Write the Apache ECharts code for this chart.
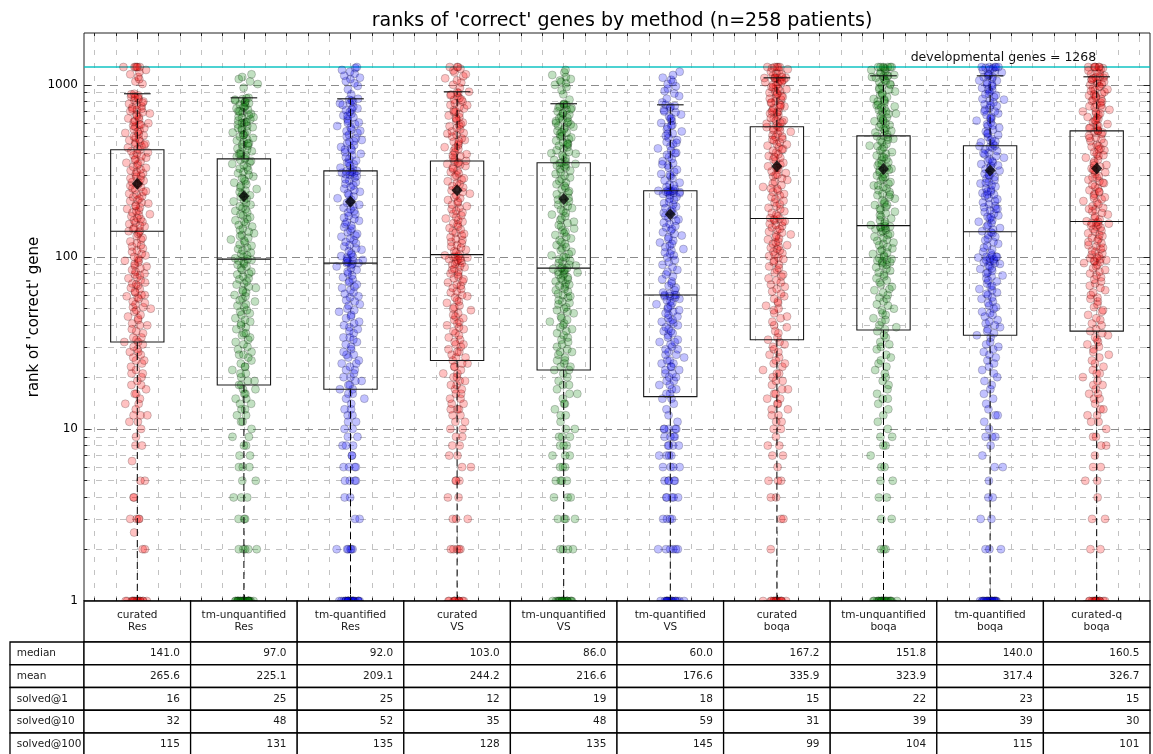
<!DOCTYPE html>
<html><head><meta charset="utf-8">
<script src="https://cdn.jsdelivr.net/npm/echarts@6/dist/echarts.min.js"></script>
<style>html,body{margin:0;padding:0;background:#fff}#c{width:1153px;height:754px}</style>
</head><body><div id="c"></div>
<script>
// ---------------- data ----------------
const methodLabels = ['curated\nRes','tm-unquantified\nRes','tm-quantified\nRes','curated\nVS','tm-unquantified\nVS','tm-quantified\nVS','curated\nboqa','tm-unquantified\nboqa','tm-quantified\nboqa','curated-q\nboqa'];
const tableRowLabels = ['median','mean','solved@1','solved@10','solved@100'];
const tableMedian = [141.0, 97.0, 92.0, 103.0, 86.0, 60.0, 167.2, 151.8, 140.0, 160.5];
const tableMean = [265.6, 225.1, 209.1, 244.2, 216.6, 176.6, 335.9, 323.9, 317.4, 326.7];
const solved1 = [16, 25, 25, 12, 19, 18, 15, 22, 23, 15];
const solved10 = [32, 48, 52, 35, 48, 59, 31, 39, 39, 30];
const solved100 = [115, 131, 135, 128, 135, 145, 99, 104, 115, 101];
const boxQ1 = [32, 18, 17, 25, 22, 15.4, 33, 37.6, 35, 37];
const boxQ3 = [419, 371, 316, 361, 352, 242, 570, 505, 442, 540];
const whiskerHigh = [887, 840, 829, 911, 776, 765, 1098, 1128, 1128, 1113];
const whiskerLow = [1, 1, 1, 1, 1, 1, 1, 1, 1, 1];
const yTickLabels = [1, 10, 100, 1000];
const developmentalGenes = 1268;

const rankCuratedRes = [1,1,1,1,1,1,1,1,1,1,1,1,1,1,1,1,
2,2,2.5,3,3,3,3,4,4,5,5,6.5,8,8,9,10,
11,11,12,12,12,13,14,14,15,16,16,17,18,18,19,20,21,21,22,23,24,25,25,26,27,28,28,29,30,31,32,32,
33,34,34,36,37,38,40,40,41,43,44,45,46,48,49,50,51,51,53,54,55,57,58,59,60,60,62,63,65,66,68,69,70,71,73,75,76,78,79,80,82,84,86,88,89,91,93,95,96,98,100,
102,104,107,109,112,115,117,120,123,126,129,132,136,139,
141,142,145,147,150,152,155,158,160,163,166,168,172,175,177,181,184,186,190,194,197,199,204,207,211,214,218,222,225,230,233,238,241,246,250,254,259,263,268,272,277,282,286,292,296,302,306,311,318,322,329,334,340,346,352,358,365,371,377,384,390,398,404,411,418,
424,431,438,446,452,461,468,476,483,492,500,508,517,525,533,542,551,560,570,579,588,598,608,617,628,638,648,659,670,681,692,703,714,726,738,750,762,775,787,800,813,826,840,853,867,880,887,455,585,720,845,
1012,1045,1078,1110,1150,1183,1220,1268,1268,1268,1268,1268,1268];

const rankTmUnqRes = [1,1,1,1,1,1,1,1,1,1,1,1,1,1,1,1,1,1,1,1,1,1,1,1,1,
2,2,2,2,2,3,3,3,4,4,4,5,5,6,6,6,7,7,8,8,9,9,10,
11,11,12,12,13,13,14,14,15,15,16,16,17,17,18,18,
19,19,20,21,21,22,23,23,24,25,26,27,27,28,29,30,31,32,33,34,35,36,36,38,39,40,41,42,43,44,46,47,48,49,51,52,53,55,56,57,59,60,62,63,64,66,67,69,70,72,74,75,77,79,80,82,84,86,88,90,91,93,95,96,97,98,100,
102,104,106,109,111,113,116,118,121,124,126,129,132,134,137,140,143,146,150,153,156,160,163,166,170,174,177,181,185,189,193,197,201,205,210,214,219,223,228,233,238,243,248,253,259,264,270,275,281,287,293,299,306,312,319,326,333,340,347,354,361,366,370,
376,383,390,397,404,411,419,426,434,442,450,458,466,474,483,491,500,509,518,528,537,547,557,567,577,588,598,609,620,631,643,654,666,678,690,703,715,728,741,755,768,782,796,811,825,840,395,455,512,560,605,648,700,745,790,820,835,600,
960,1010,1045,1080,1110,1150];

const rankTmQRes = [1,1,1,1,1,1,1,1,1,1,1,1,1,1,1,1,1,1,1,1,1,1,1,1,1,
2,2,2,2,2,2,3,3,4,4,5,5,5,5,6,6,6,6,7,7,8,8,8,9,9,10,10,
11,11,12,12,13,13,14,15,15,16,16,17,
17,18,18,19,19,20,20,21,22,22,23,24,24,25,26,27,27,28,29,30,31,32,33,34,34,36,37,38,39,40,41,42,44,45,46,48,49,50,52,53,55,56,58,59,61,62,64,66,67,69,71,72,74,76,78,80,82,84,86,88,90,91,92,92,93,94,95,96,97,99,100,
101,103,105,108,110,112,115,117,120,122,125,128,131,133,136,139,142,146,149,152,155,159,162,166,169,173,177,181,185,189,193,197,201,206,210,215,219,224,229,234,239,244,249,255,260,266,271,277,283,289,295,299,302,305,308,310,312,314,316,
322,330,338,345,353,362,370,379,388,397,406,416,425,435,446,456,467,478,489,501,512,525,537,550,563,576,590,604,618,633,648,663,679,695,712,729,746,764,782,801,820,829,350,420,470,540,600,660,720,780,810,
880,940,985,1020,1050,1080,1100,1130,1160,1190,1220,1250,1268];

const rankCuratedVS = [1,1,1,1,1,1,1,1,1,1,1,1,
2,2,2,2,2,3,3,3,4,4,5,5,5,6,6,7,7,8,8,9,9,10,10,
11,11,12,12,13,13,13,14,14,15,15,16,16,17,17,18,18,19,19,20,20,21,21,22,23,23,24,24,25,
26,26,27,28,28,29,30,31,31,32,33,34,35,36,37,38,39,40,41,42,43,44,45,46,47,49,50,51,52,54,55,56,58,59,60,62,63,65,66,68,69,71,72,74,75,77,79,80,82,84,85,87,88,90,91,92,94,95,96,97,98,99,100,100,
101,102,104,106,108,110,113,115,117,120,122,125,127,130,133,136,138,141,144,147,150,154,157,160,163,167,170,174,178,181,185,189,193,197,201,206,210,214,219,223,228,233,238,243,248,253,258,264,269,275,281,286,292,298,305,311,317,324,330,337,344,347,351,354,358,361,
368,377,386,395,404,414,424,434,444,455,466,477,488,500,512,524,536,549,562,575,589,603,617,632,647,662,678,694,711,728,745,763,781,799,818,837,857,877,897,911,390,430,470,520,580,640,700,760,820,870,905,
960,1000,1030,1060,1090,1120,1150,1180,1210,1240,1268,1268,1268];

const rankTmUnqVS = [1,1,1,1,1,1,1,1,1,1,1,1,1,1,1,1,1,1,1,
2,2,2,2,3,3,3,3,4,4,4,5,5,5,5,6,6,6,7,7,7,8,8,8,9,9,9,10,10,
11,12,12,13,14,14,15,16,16,17,18,18,19,20,21,22,
22,23,23,24,25,25,26,27,28,28,29,30,31,32,33,34,35,36,37,38,39,40,41,42,43,44,45,47,48,49,50,51,53,54,55,56,58,59,60,61,63,64,65,67,68,69,70,72,73,74,75,76,78,79,80,81,82,83,84,85,86,86,87,89,90,92,94,95,97,99,100,
102,104,107,109,112,114,117,119,122,125,128,131,134,137,140,143,146,150,153,157,160,164,168,172,176,180,184,188,192,197,201,206,211,215,220,225,231,236,241,247,252,258,264,270,276,283,289,296,303,310,317,324,330,335,340,344,347,350,352,
358,366,374,382,390,398,407,416,425,434,443,453,463,473,484,494,505,516,528,539,551,563,576,588,601,615,628,642,656,671,686,701,716,732,748,765,776,400,450,500,530,570,610,640,680,720,740,760,770,600,460,
820,880,930,970,1000,1020,1040,1060,1080,1110,1140,1180,1220];

const rankTmQVS = [1,1,1,1,1,1,1,1,1,1,1,1,1,1,1,1,1,1,
2,2,2,2,2,2,3,3,3,3,4,4,4,4,4,5,5,5,5,5,6,6,6,6,7,7,7,7,8,8,8,8,9,9,9,9,10,10,10,10,10,
11,12,13,14,15,
15,16,16,17,17,18,18,19,19,20,20,21,21,22,22,23,23,24,24,25,25,26,27,27,28,29,29,30,31,32,32,33,34,35,36,37,37,38,39,40,41,42,42,43,44,45,46,47,48,49,50,51,52,53,54,55,56,57,58,59,59,60,60,60,61,
62,64,66,68,70,72,74,77,79,82,84,87,90,93,96,99,
102,104,106,109,111,114,116,119,121,124,127,130,133,136,139,142,145,148,151,155,158,162,165,169,173,176,180,184,188,192,196,201,205,209,214,218,223,228,232,236,238,239,240,241,242,242,243,237,234,
248,255,263,270,278,286,294,303,312,321,330,340,350,360,370,381,392,403,415,427,439,452,465,478,492,506,521,536,551,567,583,600,617,635,654,672,692,712,732,754,765,260,300,345,400,460,520,580,640,700,745,
790,830,860,890,920,950,980,1010,1040,1070,1100,1140,1190];

const rankCuratedBoqa = [1,1,1,1,1,1,1,1,1,1,1,1,1,1,1,
2,3,3,4,4,5,5,5,6,7,7,8,8,9,10,10,
11,11,12,12,13,13,14,14,15,15,16,16,17,17,18,19,19,20,21,21,22,23,24,24,25,26,27,28,29,30,31,32,33,
34,36,37,39,40,42,44,45,47,49,50,52,54,55,57,59,61,63,65,67,69,71,73,75,77,79,81,84,86,88,90,93,95,97,99,
101,103,105,107,109,111,113,115,117,119,121,123,126,128,130,133,135,138,140,143,145,148,151,153,156,159,161,163,165,167,
168,172,176,180,184,189,193,197,202,207,212,217,222,227,232,238,243,249,255,261,267,273,280,286,293,300,307,314,321,329,336,344,352,360,369,377,386,395,404,414,423,433,443,454,464,475,486,497,509,521,533,545,558,563,567,570,300,380,450,500,250,330,420,480,540,
580,594,608,622,637,651,667,682,698,714,731,748,766,784,802,820,840,859,879,900,921,942,964,987,1010,1034,1058,1083,1098,1098,600,640,690,740,790,850,910,970,1030,1070,620,700,760,830,890,950,1000,1050,1090,1095,1098,
1110,1130,1150,1170,1190,1210,1230,1250,1268,1268,1268,1268,1268];

const rankTmUnqBoqa = [1,1,1,1,1,1,1,1,1,1,1,1,1,1,1,1,1,1,1,1,1,1,
2,2,2,3,3,4,4,5,5,6,6,7,8,8,9,9,10,
11,12,13,14,15,15,16,17,18,19,20,21,22,23,24,25,26,27,29,30,31,32,34,35,37,
38,39,40,42,43,44,46,47,49,50,52,53,55,57,58,60,62,64,65,67,69,71,73,75,77,79,81,83,85,87,89,90,92,93,94,95,96,97,98,100,
102,104,106,108,110,112,114,117,119,121,124,126,129,131,134,136,139,141,143,145,147,148,149,150,151,
153,156,160,163,167,171,175,179,183,187,191,195,200,204,209,213,218,223,228,233,238,244,249,255,260,266,272,278,284,291,297,304,311,318,325,332,340,347,355,363,371,379,388,397,406,415,424,434,443,453,464,474,485,496,502,505,200,260,320,380,440,480,230,290,350,
515,528,541,555,569,584,598,614,629,645,661,678,695,713,731,749,768,787,807,827,848,869,891,914,937,960,985,1010,1035,1061,1088,1110,1128,540,590,640,700,760,820,880,940,1000,1050,1100,1120,560,620,680,740,800,1125,
1140,1160,1180,1200,1220,1240,1255,1268,1268,1268,1268,1268,1268];

const rankTmQBoqa = [1,1,1,1,1,1,1,1,1,1,1,1,1,1,1,1,1,1,1,1,1,1,1,
2,2,2,3,3,4,4,5,6,6,7,8,9,9,9,10,
11,12,12,13,14,15,16,17,18,19,20,21,22,23,24,25,26,27,28,29,30,31,32,34,35,
36,37,38,39,40,41,42,43,45,46,47,48,50,51,52,54,55,57,58,60,61,62,64,65,67,68,70,72,73,75,77,78,80,81,83,85,86,88,89,91,92,93,94,95,96,97,98,99,100,100,100,
102,105,107,110,113,116,119,122,125,128,131,134,137,139,
141,144,147,150,153,157,160,163,167,171,174,178,182,186,190,194,198,202,207,211,216,220,225,230,235,240,245,250,256,261,267,273,279,285,291,297,304,310,317,324,331,338,346,353,361,369,377,385,394,403,412,421,430,436,440,442,190,240,300,360,400,170,230,270,340,
452,463,474,486,498,510,523,535,548,562,576,590,604,619,634,650,666,682,699,716,734,752,770,789,809,828,849,870,891,913,936,959,982,1006,1031,1056,1082,1108,1128,470,520,580,640,700,760,820,880,940,1000,1060,1110,
1140,1160,1180,1200,1215,1230,1245,1255,1268,1268,1268,1268,1268];

const rankCuratedQBoqa = [1,1,1,1,1,1,1,1,1,1,1,1,1,1,1,
2,2,3,3,4,5,5,6,6,7,8,8,9,9,10,
11,11,12,12,13,13,14,15,15,16,16,17,18,18,19,20,21,21,22,23,24,25,26,27,28,29,30,31,32,33,34,35,36,37,
38,40,41,43,44,46,48,49,51,53,55,57,58,60,62,64,66,68,70,72,74,76,78,80,82,84,86,88,90,92,93,94,95,96,97,98,99,
101,103,105,107,109,111,113,115,117,120,122,124,127,129,132,134,137,140,142,145,148,150,152,154,156,157,158,160,
161,165,168,172,176,180,184,188,193,197,202,207,211,216,222,227,232,238,244,250,256,262,268,275,281,288,295,303,310,318,326,334,342,350,359,368,377,386,396,406,416,426,437,448,459,470,482,494,506,518,528,534,538,540,190,240,290,340,390,440,490,220,270,320,420,
550,563,577,591,605,620,635,650,666,682,698,715,732,750,768,787,806,826,846,866,887,909,931,953,977,1000,1025,1050,1075,1100,1113,560,620,680,740,800,860,920,980,1040,1090,580,640,700,760,820,880,940,1010,1070,1105,
1130,1150,1170,1190,1210,1230,1250,1268,1268,1268,1268,1268,1268];

const allRanks = [rankCuratedRes, rankTmUnqRes, rankTmQRes, rankCuratedVS, rankTmUnqVS, rankTmQVS, rankCuratedBoqa, rankTmUnqBoqa, rankTmQBoqa, rankCuratedQBoqa];

// ---------------- style ----------------
const FONT = '"DejaVu Sans", "Liberation Sans", sans-serif';
const pointFill = ['rgba(255,0,0,0.3)','rgba(0,128,0,0.3)','rgba(0,0,255,0.3)','rgba(255,0,0,0.3)','rgba(0,128,0,0.3)','rgba(0,0,255,0.3)','rgba(255,0,0,0.3)','rgba(0,128,0,0.3)','rgba(0,0,255,0.3)','rgba(255,0,0,0.3)'];

// deterministic (non-random) horizontal jitter from a Halton sequence
function halton(i, b){ let f = 1, r = 0; while (i > 0){ f /= b; r += f * (i % b); i = Math.floor(i / b); } return r; }
function jitter(k){
  const u1 = halton(k + 1, 2) * 0.998 + 0.001, u2 = halton(k + 1, 3);
  let z = Math.sqrt(-2 * Math.log(u1)) * Math.cos(2 * Math.PI * u2);
  z = Math.max(-2.6, Math.min(2.6, z));
  return z * 0.05;
}

// grid / tick helper lines (layout only)
const X0 = 0.5, X1 = 10.5, Y0 = 1, Y1 = 2000;
const gridData = [];
const vStyle = {color:'#c2c2c2', width:1, type:[5,8]};
const minorStyle = {color:'#c2c2c2', width:1, type:[6,6]};
const majorStyle = {color:'#8c8c8c', width:1, type:[8,5]};
const tickStyle = {color:'#222', width:1, type:'solid'};
for (let k = 3; k <= 52; k++){
  const x = +(k * 0.2).toFixed(1);
  gridData.push({xAxis: x, lineStyle: vStyle});
  const major = Math.abs(x - Math.round(x)) < 1e-6;
  const f = major ? 1.085 : 1.045;
  gridData.push([{coord:[x, Y0], lineStyle: tickStyle}, {coord:[x, Y0 * f]}]);
  gridData.push([{coord:[x, Y1], lineStyle: tickStyle}, {coord:[x, Y1 / f]}]);
}
for (let e = 0; e < 4; e++){
  for (let d = 1; d < 10; d++){
    const v = d * Math.pow(10, e);
    if (v <= Y0 || v >= Y1) continue;
    const major = d === 1;
    gridData.push({yAxis: v, lineStyle: major ? majorStyle : minorStyle});
    const len = major ? 0.06 : 0.03;
    gridData.push([{coord:[X0, v], lineStyle: tickStyle}, {coord:[X0 + len, v]}]);
    gridData.push([{coord:[X1, v], lineStyle: tickStyle}, {coord:[X1 - len, v]}]);
  }
}
gridData.push({yAxis: developmentalGenes, lineStyle: {color:'rgba(0,191,191,0.7)', width:2, type:'solid'}});

function renderBox(params, api){
  const x = api.value(0), q1 = api.value(1), med = api.value(2), q3 = api.value(3), lo = api.value(4), hi = api.value(5);
  const hw = 0.25, cw = 0.125;
  const tl = api.coord([x - hw, q3]), br = api.coord([x + hw, q1]);
  const mL = api.coord([x - hw, med]), mR = api.coord([x + hw, med]);
  const c3 = api.coord([x, q3]), c1 = api.coord([x, q1]), cHi = api.coord([x, hi]), cLo = api.coord([x, lo]);
  const hL = api.coord([x - cw, hi]), hR = api.coord([x + cw, hi]);
  const lL = api.coord([x - cw, lo]), lR = api.coord([x + cw, lo]);
  const s = {stroke:'#111', lineWidth:1.1, fill:null};
  return {type:'group', children:[
    {type:'line', shape:{x1:c3[0], y1:c3[1], x2:cHi[0], y2:cHi[1]}, style:{stroke:'#000', lineWidth:1, lineDash:[7,4]}},
    {type:'line', shape:{x1:c1[0], y1:c1[1], x2:cLo[0], y2:cLo[1]}, style:{stroke:'#000', lineWidth:1, lineDash:[7,4]}},
    {type:'rect', shape:{x:tl[0], y:tl[1], width:br[0] - tl[0], height:br[1] - tl[1]}, style:{stroke:'#1a1a1a', lineWidth:1.1, fill:'none'}},
    {type:'line', shape:{x1:mL[0], y1:mL[1], x2:mR[0], y2:mR[1]}, style:s},
    {type:'line', shape:{x1:hL[0], y1:hL[1], x2:hR[0], y2:hR[1]}, style:s},
    {type:'line', shape:{x1:lL[0], y1:lL[1], x2:lR[0], y2:lR[1]}, style:s}
  ]};
}

const series = [];
series.push({
  type:'line', data:[], z:1, silent:true, animation:false,
  markLine:{z:1, silent:true, animation:false, symbol:['none','none'], label:{show:false}, data: gridData},
  markPoint:{z:6, silent:true, animation:false, symbol:'rect', symbolSize:1, itemStyle:{color:'rgba(0,0,0,0)'},
    label:{show:true, position:'left', distance:0, offset:[0,-9], formatter:'developmental genes = ' + developmentalGenes, color:'#111', fontSize:12.5, fontFamily:FONT},
    data:[{coord:[10, developmentalGenes]}]}
});
allRanks.forEach((arr, m) => {
  series.push({
    type:'scatter', z:2, silent:true, animation:false, symbolSize:8,
    itemStyle:{color: pointFill[m], borderColor:'rgba(0,0,0,0.3)', borderWidth:0.8},
    data: arr.map((v, i) => [m + 1 + jitter(i + m * 258), v])
  });
});
series.push({
  type:'custom', z:3, silent:true, animation:false, renderItem: renderBox,
  encode:{x:0, y:[1,2,3,4,5]},
  data: methodLabels.map((_, m) => [m + 1, boxQ1[m], tableMedian[m], boxQ3[m], whiskerLow[m], whiskerHigh[m]])
});
series.push({
  type:'scatter', z:4, silent:true, animation:false, symbol:'diamond', symbolSize:[11,12],
  itemStyle:{color:'#000'},
  data: tableMean.map((v, m) => [m + 1, v])
});

const chart = echarts.init(document.getElementById('c'), null, {renderer:'canvas'});
chart.setOption({
  animation:false,
  backgroundColor:'#fff',
  title:{text:"ranks of 'correct' genes by method (n=258 patients)", left:617, top:7, textAlign:'center',
    textStyle:{fontSize:19, fontWeight:'normal', color:'#000', fontFamily:FONT}},
  grid:{left:84, right:3, top:33, bottom:153, show:true, borderColor:'#222', borderWidth:1, backgroundColor:'transparent', containLabel:false, outerBoundsMode:'none'},
  xAxis:{type:'value', min:X0, max:X1, axisLine:{show:false}, axisTick:{show:false}, axisLabel:{show:false}, splitLine:{show:false}},
  yAxis:{type:'log', logBase:10, min:Y0, max:Y1,
    name:"rank of 'correct' gene", nameLocation:'middle', nameRotate:90, nameGap:42, nameMoveOverlap:false,
    nameTextStyle:{fontSize:15, color:'#000', fontFamily:FONT},
    axisLine:{show:false}, axisTick:{show:false}, splitLine:{show:false}, minorSplitLine:{show:false},
    axisLabel:{margin:6, fontSize:12, color:'#000', fontFamily:FONT,
      formatter: v => { const r = Math.round(v); return yTickLabels.includes(r) && Math.abs(v - r) < 1e-6 * r + 1e-9 ? String(r) : ''; }}},
  series
});

// table below the plot, columns aligned to the x axis
function buildTable(){
  const p0 = chart.convertToPixel({gridIndex:0}, [X0, Y0]);
  const p1 = chart.convertToPixel({gridIndex:0}, [X0 + 1, Y0]);
  const x0 = p0[0], yb = p0[1], colW = p1[0] - p0[0];
  const headerH = 41, rowH = 22.75, labelLeft = 10;
  const lw = 1.3;
  const els = [];
  const rowsText = [tableMedian.map(v => v.toFixed(1)), tableMean.map(v => v.toFixed(1)), solved1.map(String), solved10.map(String), solved100.map(String)];
  const txt = {font:'10.5px ' + FONT, fill:'#1a1a1a'};
  methodLabels.forEach((lab, i) => {
    const x = x0 + i * colW;
    els.push({type:'rect', z:100, silent:true, shape:{x:x, y:yb, width:colW, height:headerH}, style:{fill:'#fff', stroke:'#000', lineWidth:lw}});
    els.push({type:'text', z:101, silent:true, x:x + colW / 2, y:yb + headerH / 2, style:Object.assign({text:lab, textAlign:'center', textVerticalAlign:'middle', lineHeight:12}, txt)});
  });
  tableRowLabels.forEach((name, r) => {
    const y = yb + headerH + r * rowH;
    els.push({type:'rect', z:100, silent:true, shape:{x:labelLeft, y:y, width:x0 - labelLeft, height:rowH}, style:{fill:'#fff', stroke:'#000', lineWidth:lw}});
    els.push({type:'text', z:101, silent:true, x:labelLeft + 0.09 * (x0 - labelLeft), y:y + rowH / 2, style:Object.assign({text:name, textAlign:'left', textVerticalAlign:'middle'}, txt)});
    rowsText[r].forEach((val, i) => {
      const x = x0 + i * colW;
      els.push({type:'rect', z:100, silent:true, shape:{x:x, y:y, width:colW, height:rowH}, style:{fill:'#fff', stroke:'#000', lineWidth:lw}});
      els.push({type:'text', z:101, silent:true, x:x + colW - 0.1 * colW, y:y + rowH / 2, style:Object.assign({text:val, textAlign:'right', textVerticalAlign:'middle'}, txt)});
    });
  });
  chart.setOption({graphic:{elements: els}});
}
buildTable();
</script>
</body></html>
